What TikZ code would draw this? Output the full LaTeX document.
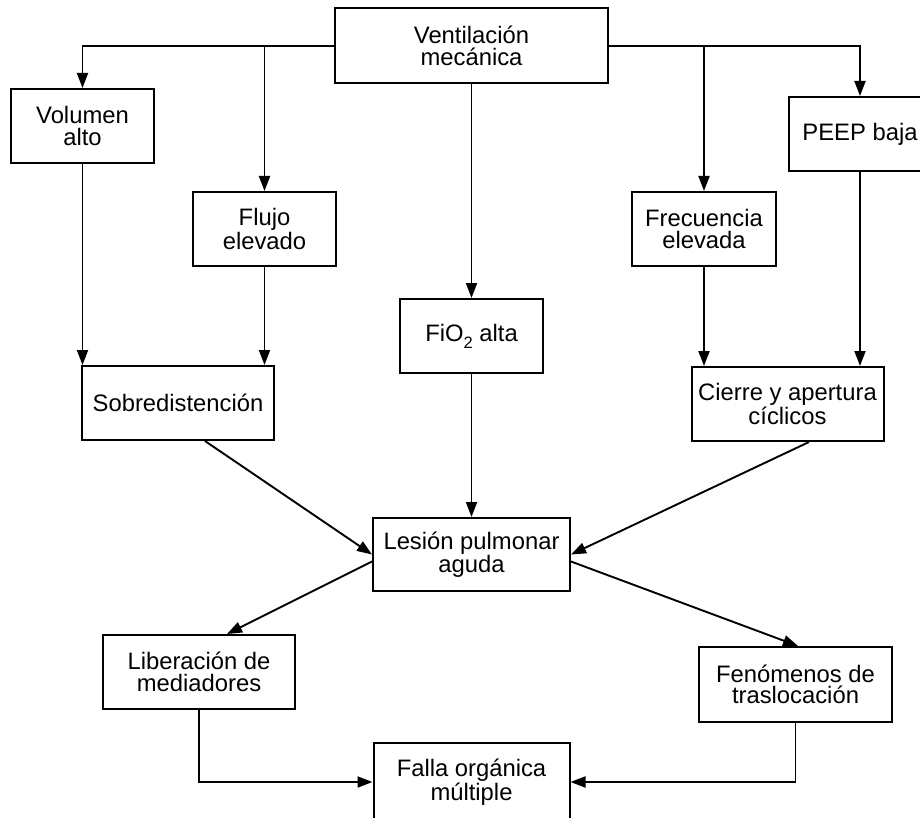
\documentclass[tikz,border=0pt]{standalone}
\usepackage{fontspec}
\setmainfont{Liberation Sans}
\usetikzlibrary{arrows.meta}
\begin{document}
\begin{tikzpicture}[x=1pt,y=-1pt,
  box/.style={draw,line width=2pt,inner sep=0pt,align=center,
    font=\fontsize{23.8}{21.5}\selectfont},
  wide/.style={minimum width=192pt,minimum height=74pt},
  narrow/.style={minimum width=143pt,minimum height=74pt},
  link/.style={line width=1.9pt,-{Triangle[length=15pt,width=11pt]}},
  plain/.style={line width=1.9pt}]
\useasboundingbox (0,0) rectangle (920,818);
\clip (0,0) rectangle (920,818);

% causes
\node[box,minimum width=273pt,minimum height=75pt] (vm) at (471.5,46) {Ventilación\\mecánica};
\node[box,narrow] (va) at (82.5,126) {Volumen\\alto};
\node[box,narrow] (fe) at (264.5,229) {Flujo\\elevado};
\node[box,narrow] (fi) at (471.5,336) {FiO\raisebox{-0.3em}{\fontsize{16.5}{16.5}\selectfont 2} alta};
\node[box,minimum width=144pt,minimum height=74pt] (fr) at (704,229) {Frecuencia\\elevada};
\node[box,narrow] (pb) at (860,134) {PEEP baja};

% mechanisms
\node[box,wide] (sd) at (178,403) {Sobredistención};
\node[box,wide] (ca) at (787.5,404) {Cierre y apertura\\cíclicos};

% injury and consequences
\node[box,minimum width=197pt,minimum height=73pt] (lp) at (471.5,554.5) {Lesión pulmonar\\aguda};
\node[box,wide] (lm) at (199,672) {Liberación de\\mediadores};
\node[box,minimum width=193pt,minimum height=75pt] (ft) at (795.5,684.5) {Fenómenos de\\traslocación};
\node[box,minimum width=196pt,minimum height=78pt] (fo) at (471.5,782) {Falla orgánica\\múltiple};

% branches from the ventilator
\draw[link] (vm.west) -| (va.north);
\draw[link] (fe.north |- vm.west) -- (fe.north);
\draw[link] (vm.east) -| (pb.north);
\draw[link] (fr.north |- vm.east) -- (fr.north);
\draw[link] (vm.south) -- (fi.north);

% into the mechanisms
\draw[link] (va.south) -- (va.south |- sd.north);
\draw[link] (fe.south) -- (fe.south |- sd.north);
\draw[link] (fr.south) -- (fr.south |- ca.north);
\draw[link] (pb.south) -- (pb.south |- ca.north);

% into the lung injury
\draw[link] (fi.south) -- (lp.north);
\draw[link] ([xshift=27pt]sd.south) -- (lp.west);
\draw[link] ([xshift=21.5pt]ca.south) -- (lp.east);

% consequences
\draw[link] ([yshift=-7pt]lp.west) -- ([xshift=28pt]lm.north);
\draw[link] ([yshift=-7pt]lp.east) -- ([xshift=2.5pt]ft.north);
\draw[link] (lm.south) |- (fo.west);
\draw[link] (ft.south) |- (fo.east);
\end{tikzpicture}
\end{document}
